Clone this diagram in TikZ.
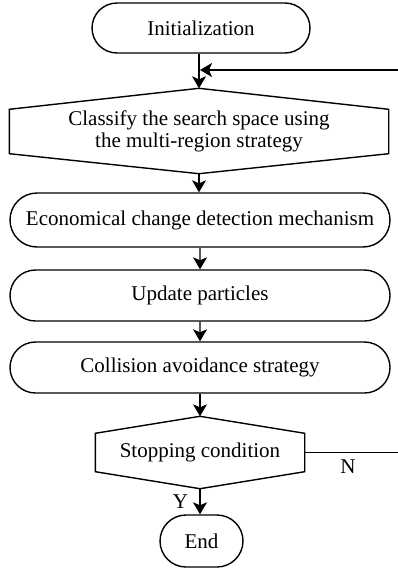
\documentclass[tikz,border=0pt]{standalone}
\usepackage{fontspec}
\setmainfont{Liberation Serif}
\usetikzlibrary{shapes.misc,arrows.meta}
\begin{document}
\begin{tikzpicture}[x=1pt,y=1pt,
  font=\fontsize{21}{22}\selectfont,
  line width=1.4pt,
  term/.style={rounded rectangle,draw,inner sep=0pt},
  hexbox/.style={rectangle,inner sep=0pt,align=center},
  arr/.style={-{Stealth[length=12pt,width=14pt,inset=3pt]}}]
\useasboundingbox (0,0) rectangle (397,-568);
\node[term,minimum width=218pt,minimum height=50pt] (init) at (201,-28) {Initialization};
\node[hexbox,minimum width=378pt,minimum height=43pt] (cls) at (199,-131.5) {Classify the search space using\\the multi-region strategy};
\draw (cls.north west) -- ([yshift=21pt]cls.north) coordinate (clsT) -- (cls.north east) -- (cls.south east) -- ([yshift=-20pt]cls.south) coordinate (clsB) -- (cls.south west) -- cycle;
\node[term,minimum width=380pt,minimum height=54pt] (econ) at (200,-220) {Economical change detection mechanism};
\node[term,minimum width=380pt,minimum height=51pt] (upd) at (200,-295.5) {Update particles};
\node[term,minimum width=380pt,minimum height=51pt] (col) at (200,-367.5) {Collision avoidance strategy};
\node[hexbox,minimum width=208pt,minimum height=37pt] (stop) at (200,-452.5) {Stopping condition};
\draw (stop.north west) -- ([yshift=17pt]stop.north) coordinate (stopT) -- (stop.north east) -- (stop.south east) -- ([yshift=-17pt]stop.south) coordinate (stopB) -- (stop.south west) -- cycle;
\node[term,minimum width=83pt,minimum height=52pt] (end) at (201.5,-541) {End};
\coordinate (j) at (200,-70);
\coordinate (fb) at (399.5,-452.5);
\draw[arr] (init.south -| clsT) -- (clsT);
\draw[arr] (clsB) -- (econ.north -| clsB);
\draw[arr] (econ) -- (upd);
\draw[arr] (upd) -- (col);
\draw[arr] (col.south -| stopT) -- (stopT);
\draw[arr] (stopB) -- (end.north -| stopB) node[pos=0.5,left=8pt] {Y};
\draw[arr] (stop.east) -- (fb) |- (j);
\node (n) at (348,-467) {N};
\end{tikzpicture}
\end{document}
